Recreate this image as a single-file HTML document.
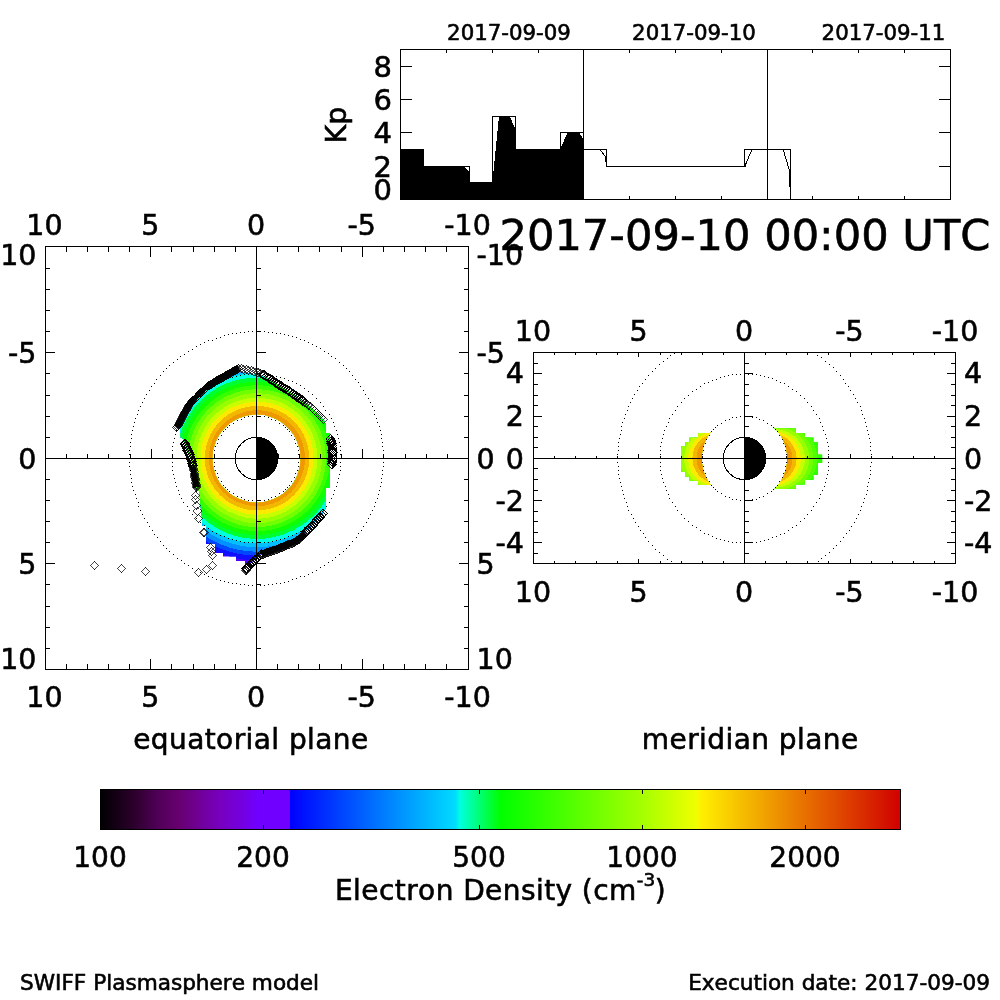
<!DOCTYPE html>
<html><head><meta charset="utf-8"><title>SWIFF Plasmasphere model</title>
<style>html,body{margin:0;padding:0;background:#fff;overflow:hidden}svg{display:block}text{font-family:'DejaVu Sans','Liberation Sans',sans-serif;fill:#000;stroke:#000;stroke-width:0.6px;font-kerning:none;font-variant-ligatures:none}</style>
</head><body>
<svg width="1000" height="1000" viewBox="0 0 1000 1000">
<rect width="1000" height="1000" fill="#fff"/>
<polygon points="400,200 400,149 424,149 424,166 463,166 470,173 470,182 492.5,182 493.5,171 499,116 509.5,116 515.5,129 515.5,149 560.5,149 561,147 568,132 578.5,132 584,140 584,200" fill="#000" shape-rendering="crispEdges"/>
<polyline points="400.5,149.5 423.5,149.5 423.5,166.5 469.5,166.5 469.5,182.5 492.5,182.5 492.5,116.5 515.5,116.5 515.5,149.5 560.5,149.5 560.5,132.5 583.5,132.5 583.5,149.5 606.5,149.5 606.5,166.5 744.5,166.5 744.5,149.5 790.5,149.5 790.5,199.5" fill="none" stroke="#000" stroke-width="1" shape-rendering="crispEdges"/>
<polyline points="600.5,150.5 605.5,156.5 606.0,162.0" fill="none" stroke="#000" stroke-width="1" shape-rendering="crispEdges"/>
<polyline points="745.0,166.5 746.0,163.5 751.5,150.5" fill="none" stroke="#000" stroke-width="1" shape-rendering="crispEdges"/>
<polyline points="783.5,150.5 789.5,170.5 790.0,186.5" fill="none" stroke="#000" stroke-width="1" shape-rendering="crispEdges"/>
<rect x="605" y="156" width="1" height="6" fill="#000"/><rect x="789" y="170" width="1" height="16" fill="#000"/>
<rect x="400.5" y="49.5" width="550" height="150" fill="none" stroke="#000" stroke-width="1" shape-rendering="crispEdges"/>
<rect x="583" y="49" width="1" height="151" fill="#000"/>
<rect x="767" y="49" width="1" height="151" fill="#000"/>
<rect x="446" y="49" width="1" height="4" fill="#000"/>
<rect x="446" y="196" width="1" height="4" fill="#000"/>
<rect x="492" y="49" width="1" height="4" fill="#000"/>
<rect x="492" y="196" width="1" height="4" fill="#000"/>
<rect x="538" y="49" width="1" height="4" fill="#000"/>
<rect x="538" y="196" width="1" height="4" fill="#000"/>
<rect x="629" y="49" width="1" height="4" fill="#000"/>
<rect x="629" y="196" width="1" height="4" fill="#000"/>
<rect x="675" y="49" width="1" height="4" fill="#000"/>
<rect x="675" y="196" width="1" height="4" fill="#000"/>
<rect x="721" y="49" width="1" height="4" fill="#000"/>
<rect x="721" y="196" width="1" height="4" fill="#000"/>
<rect x="812" y="49" width="1" height="4" fill="#000"/>
<rect x="812" y="196" width="1" height="4" fill="#000"/>
<rect x="858" y="49" width="1" height="4" fill="#000"/>
<rect x="858" y="196" width="1" height="4" fill="#000"/>
<rect x="904" y="49" width="1" height="4" fill="#000"/>
<rect x="904" y="196" width="1" height="4" fill="#000"/>
<rect x="400" y="166" width="12" height="1" fill="#000"/>
<rect x="939" y="166" width="12" height="1" fill="#000"/>
<rect x="400" y="132" width="12" height="1" fill="#000"/>
<rect x="939" y="132" width="12" height="1" fill="#000"/>
<rect x="400" y="99" width="12" height="1" fill="#000"/>
<rect x="939" y="99" width="12" height="1" fill="#000"/>
<rect x="400" y="66" width="12" height="1" fill="#000"/>
<rect x="939" y="66" width="12" height="1" fill="#000"/>
<text x="392" y="76.5" font-size="29" text-anchor="end" >8</text>
<text x="392" y="109.5" font-size="29" text-anchor="end" >6</text>
<text x="392" y="143" font-size="29" text-anchor="end" >4</text>
<text x="392" y="176.5" font-size="29" text-anchor="end" >2</text>
<text x="392" y="199.5" font-size="29" text-anchor="end" >0</text>
<text transform="translate(346,125) rotate(-90)" font-size="28.5" text-anchor="middle">Kp</text>
<text x="509" y="39.5" font-size="21.3" text-anchor="middle" >2017-09-09</text>
<text x="694" y="39.5" font-size="21.3" text-anchor="middle" >2017-09-10</text>
<text x="883.5" y="39.5" font-size="21.3" text-anchor="middle" >2017-09-11</text>
<text x="990.5" y="249.8" font-size="43.2" text-anchor="end" >2017-09-10 00:00 UTC</text>
<defs>
<linearGradient id="cb" x1="0" x2="1" y1="0" y2="0">
<stop offset="0" stop-color="#000000"/>
<stop offset="0.046" stop-color="#300030"/>
<stop offset="0.0725" stop-color="#500058"/>
<stop offset="0.099" stop-color="#680070"/>
<stop offset="0.125" stop-color="#700098"/>
<stop offset="0.151" stop-color="#7800C0"/>
<stop offset="0.1775" stop-color="#7400E0"/>
<stop offset="0.196" stop-color="#7000FF"/>
<stop offset="0.2365" stop-color="#7000FF"/>
<stop offset="0.2375" stop-color="#0000FF"/>
<stop offset="0.444" stop-color="#00DCFF"/>
<stop offset="0.449" stop-color="#00FFE0"/>
<stop offset="0.50" stop-color="#00FF00"/>
<stop offset="0.68" stop-color="#A8FF00"/>
<stop offset="0.745" stop-color="#F0FF00"/>
<stop offset="0.75" stop-color="#FFF000"/>
<stop offset="0.88" stop-color="#E87000"/>
<stop offset="1" stop-color="#D00000"/>
</linearGradient>
</defs>
<clipPath id="eqclip"><path clip-rule="evenodd" d="M180.2,427.5 L181,420 L184.5,412.5 L188.5,405.5 L192.5,401 L196,398 L200.5,393.3 L204.5,389.5 L208.5,386 L216.5,381 L224.5,376.5 L232.5,372.5 L238,372.5 L246,373 L256,374.5 L264,376 L272,380.5 L280,386 L288,391 L296,396.5 L304,402 L312,408.5 L319,415.5 L324,420.5 L325.6,424 L325.6,433 L329.6,433 L329.6,488 L325.8,488 L325.8,508 L323,513 L317,519.5 L310.5,526.5 L304,533 L298,538.5 L291,542.5 L283,545.7 L275,549 L267,551.3 L261,553.8 L257,557.8 L252,562 L247,565 L245,565 L245,561 L236,561 L236,556.6 L223,556.6 L223,553 L215,553 L215,544 L206,544 L206,526 L202,526 L202,517 L200.5,505 L199.5,492 L196.5,487.4 L195.5,482.6 L194.2,475.4 L193,469 L192.2,462.6 L190.6,457 L187.4,449.8 L185,444.2 L184.2,439.4 L180.2,437 Z M212.2965,458.5 a44.20349999999999,44.20349999999999 0 1,0 88.40699999999998,0 a44.20349999999999,44.20349999999999 0 1,0 -88.40699999999998,0 Z"/></clipPath>
<g clip-path="url(#eqclip)" shape-rendering="crispEdges"><circle cx="257.0" cy="458.2" r="118.44" fill="#5000FF"/><circle cx="257.0" cy="458.2" r="102.37" fill="#1010FF"/><circle cx="257.0" cy="458.2" r="97.50" fill="#0048FF"/><circle cx="257.0" cy="458.2" r="93.48" fill="#0090FF"/><circle cx="257.0" cy="458.2" r="89.04" fill="#00C0FF"/><circle cx="257.0" cy="458.2" r="85.02" fill="#00FFE0"/><circle cx="257.0" cy="458.2" r="80.69" fill="#00FF30"/><circle cx="257.0" cy="458.2" r="76.77" fill="#10FF00"/><circle cx="257.0" cy="458.2" r="72.97" fill="#38FF00"/><circle cx="257.0" cy="458.2" r="68.95" fill="#70FF00"/><circle cx="257.0" cy="458.2" r="64.93" fill="#98FF00"/><circle cx="257.0" cy="458.2" r="60.49" fill="#C8FF00"/><circle cx="257.0" cy="458.2" r="56.47" fill="#FCEA00"/><circle cx="257.0" cy="458.2" r="52.24" fill="#F2B800"/><circle cx="257.0" cy="458.2" r="48.01" fill="#F09800"/><circle cx="257.0" cy="458.2" r="43.57" fill="#E87000"/></g>
<path d="M298,458h1v1h-1zM298,454h1v1h-1zM298,450h1v1h-1zM297,446h1v1h-1zM295,443h1v1h-1zM294,439h1v1h-1zM291,435h1v1h-1zM289,431h1v1h-1zM287,429h1v1h-1zM285,427h1v1h-1zM283,425h1v1h-1zM279,423h1v1h-1zM275,420h1v1h-1zM271,419h1v1h-1zM268,417h1v1h-1zM264,416h1v1h-1zM260,416h1v1h-1zM256,416h1v1h-1zM252,416h1v1h-1zM248,416h1v1h-1zM244,417h1v1h-1zM241,419h1v1h-1zM237,420h1v1h-1zM233,423h1v1h-1zM229,425h1v1h-1zM227,427h1v1h-1zM225,429h1v1h-1zM223,431h1v1h-1zM221,435h1v1h-1zM218,439h1v1h-1zM217,443h1v1h-1zM215,446h1v1h-1zM214,450h1v1h-1zM214,454h1v1h-1zM214,458h1v1h-1zM214,462h1v1h-1zM214,466h1v1h-1zM215,470h1v1h-1zM217,473h1v1h-1zM218,477h1v1h-1zM221,481h1v1h-1zM223,485h1v1h-1zM225,487h1v1h-1zM227,489h1v1h-1zM229,491h1v1h-1zM233,493h1v1h-1zM237,496h1v1h-1zM241,497h1v1h-1zM244,499h1v1h-1zM248,500h1v1h-1zM252,500h1v1h-1zM256,500h1v1h-1zM260,500h1v1h-1zM264,500h1v1h-1zM268,499h1v1h-1zM271,497h1v1h-1zM275,496h1v1h-1zM279,493h1v1h-1zM283,491h1v1h-1zM285,489h1v1h-1zM287,487h1v1h-1zM289,485h1v1h-1zM291,481h1v1h-1zM294,477h1v1h-1zM295,473h1v1h-1zM297,470h1v1h-1zM298,466h1v1h-1zM298,462h1v1h-1zM298,458h1v1h-1z" fill="#000"  shape-rendering="crispEdges"/>
<path d="M341,458h1v1h-1zM340,454h1v1h-1zM340,450h1v1h-1zM340,446h1v1h-1zM339,442h1v1h-1zM338,438h1v1h-1zM337,434h1v1h-1zM336,430h1v1h-1zM334,426h1v1h-1zM333,422h1v1h-1zM331,418h1v1h-1zM329,414h1v1h-1zM325,410h1v1h-1zM323,406h1v1h-1zM320,402h1v1h-1zM316,398h1v1h-1zM312,394h1v1h-1zM308,391h1v1h-1zM304,388h1v1h-1zM300,385h1v1h-1zM296,383h1v1h-1zM292,381h1v1h-1zM288,380h1v1h-1zM284,378h1v1h-1zM280,377h1v1h-1zM276,376h1v1h-1zM272,375h1v1h-1zM268,374h1v1h-1zM264,374h1v1h-1zM260,374h1v1h-1zM256,373h1v1h-1zM252,374h1v1h-1zM248,374h1v1h-1zM244,374h1v1h-1zM240,375h1v1h-1zM236,376h1v1h-1zM232,377h1v1h-1zM228,378h1v1h-1zM224,380h1v1h-1zM220,381h1v1h-1zM216,383h1v1h-1zM212,385h1v1h-1zM208,389h1v1h-1zM204,391h1v1h-1zM200,394h1v1h-1zM196,398h1v1h-1zM192,402h1v1h-1zM189,406h1v1h-1zM186,410h1v1h-1zM183,414h1v1h-1zM181,418h1v1h-1zM179,422h1v1h-1zM178,426h1v1h-1zM176,430h1v1h-1zM175,434h1v1h-1zM174,438h1v1h-1zM173,442h1v1h-1zM172,446h1v1h-1zM172,450h1v1h-1zM172,454h1v1h-1zM171,458h1v1h-1zM172,462h1v1h-1zM172,466h1v1h-1zM172,470h1v1h-1zM173,474h1v1h-1zM174,478h1v1h-1zM175,482h1v1h-1zM176,486h1v1h-1zM178,490h1v1h-1zM179,494h1v1h-1zM181,498h1v1h-1zM183,502h1v1h-1zM187,506h1v1h-1zM189,510h1v1h-1zM192,514h1v1h-1zM196,518h1v1h-1zM200,522h1v1h-1zM204,525h1v1h-1zM208,528h1v1h-1zM212,531h1v1h-1zM216,533h1v1h-1zM220,535h1v1h-1zM224,536h1v1h-1zM228,538h1v1h-1zM232,539h1v1h-1zM236,540h1v1h-1zM240,541h1v1h-1zM244,542h1v1h-1zM248,542h1v1h-1zM252,542h1v1h-1zM256,543h1v1h-1zM260,542h1v1h-1zM264,542h1v1h-1zM268,542h1v1h-1zM272,541h1v1h-1zM276,540h1v1h-1zM280,539h1v1h-1zM284,538h1v1h-1zM288,536h1v1h-1zM292,535h1v1h-1zM296,533h1v1h-1zM300,531h1v1h-1zM304,527h1v1h-1zM308,525h1v1h-1zM312,522h1v1h-1zM316,518h1v1h-1zM320,514h1v1h-1zM323,510h1v1h-1zM326,506h1v1h-1zM329,502h1v1h-1zM331,498h1v1h-1zM333,494h1v1h-1zM334,490h1v1h-1zM336,486h1v1h-1zM337,482h1v1h-1zM338,478h1v1h-1zM339,474h1v1h-1zM340,470h1v1h-1zM340,466h1v1h-1zM340,462h1v1h-1zM341,458h1v1h-1z" fill="#000"  shape-rendering="crispEdges"/>
<path d="M383,458h1v1h-1zM383,454h1v1h-1zM383,450h1v1h-1zM382,446h1v1h-1zM382,442h1v1h-1zM381,438h1v1h-1zM381,434h1v1h-1zM380,430h1v1h-1zM379,426h1v1h-1zM377,422h1v1h-1zM376,418h1v1h-1zM374,414h1v1h-1zM374,410h1v1h-1zM372,406h1v1h-1zM370,402h1v1h-1zM368,398h1v1h-1zM365,394h1v1h-1zM363,390h1v1h-1zM360,386h1v1h-1zM358,382h1v1h-1zM355,379h1v1h-1zM352,375h1v1h-1zM349,371h1v1h-1zM346,368h1v1h-1zM343,365h1v1h-1zM339,362h1v1h-1zM335,358h1v1h-1zM331,356h1v1h-1zM328,353h1v1h-1zM324,351h1v1h-1zM320,348h1v1h-1zM316,346h1v1h-1zM312,344h1v1h-1zM308,342h1v1h-1zM304,340h1v1h-1zM300,339h1v1h-1zM296,337h1v1h-1zM292,336h1v1h-1zM288,335h1v1h-1zM284,334h1v1h-1zM280,333h1v1h-1zM276,333h1v1h-1zM272,332h1v1h-1zM268,332h1v1h-1zM264,331h1v1h-1zM260,331h1v1h-1zM256,331h1v1h-1zM252,331h1v1h-1zM248,331h1v1h-1zM244,332h1v1h-1zM240,332h1v1h-1zM236,333h1v1h-1zM232,333h1v1h-1zM228,334h1v1h-1zM224,335h1v1h-1zM220,337h1v1h-1zM216,338h1v1h-1zM212,340h1v1h-1zM208,340h1v1h-1zM204,342h1v1h-1zM200,344h1v1h-1zM196,346h1v1h-1zM192,349h1v1h-1zM188,351h1v1h-1zM184,354h1v1h-1zM180,356h1v1h-1zM177,359h1v1h-1zM173,362h1v1h-1zM169,365h1v1h-1zM166,368h1v1h-1zM163,371h1v1h-1zM160,375h1v1h-1zM156,379h1v1h-1zM154,383h1v1h-1zM151,386h1v1h-1zM149,390h1v1h-1zM146,394h1v1h-1zM144,398h1v1h-1zM142,402h1v1h-1zM140,406h1v1h-1zM138,410h1v1h-1zM137,414h1v1h-1zM135,418h1v1h-1zM134,422h1v1h-1zM133,426h1v1h-1zM132,430h1v1h-1zM131,434h1v1h-1zM131,438h1v1h-1zM130,442h1v1h-1zM130,446h1v1h-1zM129,450h1v1h-1zM129,454h1v1h-1zM129,458h1v1h-1zM129,462h1v1h-1zM129,466h1v1h-1zM130,470h1v1h-1zM130,474h1v1h-1zM131,478h1v1h-1zM131,482h1v1h-1zM132,486h1v1h-1zM133,490h1v1h-1zM135,494h1v1h-1zM136,498h1v1h-1zM138,502h1v1h-1zM138,506h1v1h-1zM140,510h1v1h-1zM142,514h1v1h-1zM144,518h1v1h-1zM147,522h1v1h-1zM149,526h1v1h-1zM152,530h1v1h-1zM154,534h1v1h-1zM157,537h1v1h-1zM160,541h1v1h-1zM163,545h1v1h-1zM166,548h1v1h-1zM169,551h1v1h-1zM173,554h1v1h-1zM177,558h1v1h-1zM181,560h1v1h-1zM184,563h1v1h-1zM188,565h1v1h-1zM192,568h1v1h-1zM196,570h1v1h-1zM200,572h1v1h-1zM204,574h1v1h-1zM208,576h1v1h-1zM212,577h1v1h-1zM216,579h1v1h-1zM220,580h1v1h-1zM224,581h1v1h-1zM228,582h1v1h-1zM232,583h1v1h-1zM236,583h1v1h-1zM240,584h1v1h-1zM244,584h1v1h-1zM248,585h1v1h-1zM252,585h1v1h-1zM256,585h1v1h-1zM260,585h1v1h-1zM264,585h1v1h-1zM268,584h1v1h-1zM272,584h1v1h-1zM276,583h1v1h-1zM280,583h1v1h-1zM284,582h1v1h-1zM288,581h1v1h-1zM292,579h1v1h-1zM296,578h1v1h-1zM300,576h1v1h-1zM304,576h1v1h-1zM308,574h1v1h-1zM312,572h1v1h-1zM316,570h1v1h-1zM320,567h1v1h-1zM324,565h1v1h-1zM328,562h1v1h-1zM332,560h1v1h-1zM335,557h1v1h-1zM339,554h1v1h-1zM343,551h1v1h-1zM346,548h1v1h-1zM349,545h1v1h-1zM352,541h1v1h-1zM356,537h1v1h-1zM358,533h1v1h-1zM361,530h1v1h-1zM363,526h1v1h-1zM366,522h1v1h-1zM368,518h1v1h-1zM370,514h1v1h-1zM372,510h1v1h-1zM374,506h1v1h-1zM375,502h1v1h-1zM377,498h1v1h-1zM378,494h1v1h-1zM379,490h1v1h-1zM380,486h1v1h-1zM381,482h1v1h-1zM381,478h1v1h-1zM382,474h1v1h-1zM382,470h1v1h-1zM383,466h1v1h-1zM383,462h1v1h-1zM383,458h1v1h-1z" fill="#000"  shape-rendering="crispEdges"/>
<polyline points="176.5,427 180.4,420 184,412.5 188.25,405 192,400.5 195.5,397.5 200,392.8 204,389 208,385.4 216,380.4 224,376 232,371.4 238.4,368" fill="none" stroke="#000" stroke-width="5.5" stroke-linejoin="round" shape-rendering="crispEdges"/>
<polyline points="304.6,533.4 298.2,539 291,543 283,546.2 275,549.4 267,551.8 261.4,554.2" fill="none" stroke="#000" stroke-width="5.5" stroke-linejoin="round" shape-rendering="crispEdges"/>
<polyline points="193,468 194.2,475.4 195.4,482.6 196.2,487.4" fill="none" stroke="#000" stroke-width="5.5" stroke-linejoin="round" shape-rendering="crispEdges"/>
<path d="M171.5,427L176,422.5L180.5,427L176,431.5ZM172.5,426L177,421.5L181.5,426L177,430.5ZM173.5,425L178,420.5L182.5,425L178,429.5ZM173.5,424L178,419.5L182.5,424L178,428.5ZM174.5,423L179,418.5L183.5,423L179,427.5ZM174.5,422L179,417.5L183.5,422L179,426.5ZM175.5,421L180,416.5L184.5,421L180,425.5ZM175.5,420L180,415.5L184.5,420L180,424.5ZM176.5,419L181,414.5L185.5,419L181,423.5ZM176.5,418L181,413.5L185.5,418L181,422.5ZM177.5,417L182,412.5L186.5,417L182,421.5ZM177.5,416L182,411.5L186.5,416L182,420.5ZM178.5,415L183,410.5L187.5,415L183,419.5ZM178.5,414L183,409.5L187.5,414L183,418.5ZM179.5,413L184,408.5L188.5,413L184,417.5ZM179.5,412L184,407.5L188.5,412L184,416.5ZM180.5,411L185,406.5L189.5,411L185,415.5ZM181.5,410L186,405.5L190.5,410L186,414.5ZM181.5,409L186,404.5L190.5,409L186,413.5ZM182.5,408L187,403.5L191.5,408L187,412.5ZM182.5,407L187,402.5L191.5,407L187,411.5ZM183.5,406L188,401.5L192.5,406L188,410.5ZM183.5,405L188,400.5L192.5,405L188,409.5ZM184.5,404L189,399.5L193.5,404L189,408.5ZM185.5,403L190,398.5L194.5,403L190,407.5ZM186.5,402L191,397.5L195.5,402L191,406.5ZM186.5,401L191,396.5L195.5,401L191,405.5ZM187.5,400L192,395.5L196.5,400L192,404.5ZM188.5,400L193,395.5L197.5,400L193,404.5ZM189.5,399L194,394.5L198.5,399L194,403.5ZM190.5,398L195,393.5L199.5,398L195,402.5ZM191.5,397L196,392.5L200.5,397L196,401.5ZM191.5,397L196,392.5L200.5,397L196,401.5ZM192.5,396L197,391.5L201.5,396L197,400.5ZM193.5,395L198,390.5L202.5,395L198,399.5ZM194.5,394L199,389.5L203.5,394L199,398.5ZM195.5,393L200,388.5L204.5,393L200,397.5ZM195.5,392L200,387.5L204.5,392L200,396.5ZM196.5,392L201,387.5L205.5,392L201,396.5ZM197.5,391L202,386.5L206.5,391L202,395.5ZM198.5,390L203,385.5L207.5,390L203,394.5ZM199.5,389L204,384.5L208.5,389L204,393.5ZM200.5,388L205,383.5L209.5,388L205,392.5ZM200.5,388L205,383.5L209.5,388L205,392.5ZM201.5,387L206,382.5L210.5,387L206,391.5ZM202.5,386L207,381.5L211.5,386L207,390.5ZM203.5,385L208,380.5L212.5,385L208,389.5ZM204.5,385L209,380.5L213.5,385L209,389.5ZM205.5,384L210,379.5L214.5,384L210,388.5ZM206.5,384L211,379.5L215.5,384L211,388.5ZM207.5,383L212,378.5L216.5,383L212,387.5ZM208.5,382L213,377.5L217.5,382L213,386.5ZM209.5,382L214,377.5L218.5,382L214,386.5ZM210.5,381L215,376.5L219.5,381L215,385.5ZM211.5,380L216,375.5L220.5,380L216,384.5ZM212.5,380L217,375.5L221.5,380L217,384.5ZM213.5,379L218,374.5L222.5,379L218,383.5ZM214.5,379L219,374.5L223.5,379L219,383.5ZM215.5,378L220,373.5L224.5,378L220,382.5ZM216.5,378L221,373.5L225.5,378L221,382.5ZM217.5,377L222,372.5L226.5,377L222,381.5ZM218.5,377L223,372.5L227.5,377L223,381.5ZM219.5,376L224,371.5L228.5,376L224,380.5ZM220.5,375L225,370.5L229.5,375L225,379.5ZM221.5,375L226,370.5L230.5,375L226,379.5ZM222.5,374L227,369.5L231.5,374L227,378.5ZM223.5,374L228,369.5L232.5,374L228,378.5ZM224.5,373L229,368.5L233.5,373L229,377.5ZM225.5,373L230,368.5L234.5,373L230,377.5ZM226.5,372L231,367.5L235.5,372L231,376.5ZM227.5,371L232,366.5L236.5,371L232,375.5ZM228.5,371L233,366.5L237.5,371L233,375.5ZM229.5,370L234,365.5L238.5,370L234,374.5ZM230.5,370L235,365.5L239.5,370L235,374.5ZM231.5,369L236,364.5L240.5,369L236,373.5ZM232.5,369L237,364.5L241.5,369L237,373.5ZM233.5,368L238,363.5L242.5,368L238,372.5ZM300.5,533L305,528.5L309.5,533L305,537.5ZM299.5,534L304,529.5L308.5,534L304,538.5ZM298.5,535L303,530.5L307.5,535L303,539.5ZM297.5,536L302,531.5L306.5,536L302,540.5ZM296.5,536L301,531.5L305.5,536L301,540.5ZM295.5,537L300,532.5L304.5,537L300,541.5ZM294.5,538L299,533.5L303.5,538L299,542.5ZM294.5,539L299,534.5L303.5,539L299,543.5ZM293.5,539L298,534.5L302.5,539L298,543.5ZM292.5,540L297,535.5L301.5,540L297,544.5ZM291.5,540L296,535.5L300.5,540L296,544.5ZM290.5,541L295,536.5L299.5,541L295,545.5ZM289.5,542L294,537.5L298.5,542L294,546.5ZM288.5,542L293,537.5L297.5,542L293,546.5ZM287.5,543L292,538.5L296.5,543L292,547.5ZM286.5,543L291,538.5L295.5,543L291,547.5ZM284.5,544L289,539.5L293.5,544L289,548.5ZM283.5,544L288,539.5L292.5,544L288,548.5ZM282.5,544L287,539.5L291.5,544L287,548.5ZM281.5,545L286,540.5L290.5,545L286,549.5ZM280.5,545L285,540.5L289.5,545L285,549.5ZM279.5,546L284,541.5L288.5,546L284,550.5ZM278.5,546L283,541.5L287.5,546L283,550.5ZM277.5,547L282,542.5L286.5,547L282,551.5ZM276.5,547L281,542.5L285.5,547L281,551.5ZM275.5,547L280,542.5L284.5,547L280,551.5ZM274.5,548L279,543.5L283.5,548L279,552.5ZM273.5,548L278,543.5L282.5,548L278,552.5ZM272.5,549L277,544.5L281.5,549L277,553.5ZM271.5,549L276,544.5L280.5,549L276,553.5ZM269.5,550L274,545.5L278.5,550L274,554.5ZM268.5,550L273,545.5L277.5,550L273,554.5ZM267.5,550L272,545.5L276.5,550L272,554.5ZM266.5,551L271,546.5L275.5,551L271,555.5ZM265.5,551L270,546.5L274.5,551L270,555.5ZM264.5,551L269,546.5L273.5,551L269,555.5ZM263.5,552L268,547.5L272.5,552L268,556.5ZM262.5,552L267,547.5L271.5,552L267,556.5ZM261.5,552L266,547.5L270.5,552L266,556.5ZM260.5,553L265,548.5L269.5,553L265,557.5ZM259.5,553L264,548.5L268.5,553L264,557.5ZM258.5,554L263,549.5L267.5,554L263,558.5ZM257.5,554L262,549.5L266.5,554L262,558.5ZM188.5,468L193,463.5L197.5,468L193,472.5ZM188.5,469L193,464.5L197.5,469L193,473.5ZM188.5,470L193,465.5L197.5,470L193,474.5ZM189.5,471L194,466.5L198.5,471L194,475.5ZM189.5,473L194,468.5L198.5,473L194,477.5ZM189.5,474L194,469.5L198.5,474L194,478.5ZM189.5,475L194,470.5L198.5,475L194,479.5ZM189.5,476L194,471.5L198.5,476L194,480.5ZM189.5,477L194,472.5L198.5,477L194,481.5ZM190.5,478L195,473.5L199.5,478L195,482.5ZM190.5,479L195,474.5L199.5,479L195,483.5ZM190.5,480L195,475.5L199.5,480L195,484.5ZM190.5,482L195,477.5L199.5,482L195,486.5ZM190.5,483L195,478.5L199.5,483L195,487.5ZM191.5,484L196,479.5L200.5,484L196,488.5ZM191.5,485L196,480.5L200.5,485L196,489.5ZM191.5,486L196,481.5L200.5,486L196,490.5ZM191.5,487L196,482.5L200.5,487L196,491.5Z" fill="none" stroke="#000" stroke-width="0.72" shape-rendering="crispEdges"/>
<path d="M259.5,375.2L264,370.7L268.5,375.2L264,379.7ZM261.5,376.4L266.0,371.9L270.5,376.4L266.0,380.9ZM263.4,377.6L267.9,373.1L272.4,377.6L267.9,382.1ZM265.4,378.8L269.9,374.3L274.4,378.8L269.9,383.3ZM267.4,379.9L271.9,375.4L276.4,379.9L271.9,384.4ZM269.3,381.2L273.8,376.7L278.3,381.2L273.8,385.7ZM271.2,382.6L275.7,378.1L280.2,382.6L275.7,387.1ZM273.0,383.9L277.5,379.4L282.0,383.9L277.5,388.4ZM274.9,385.2L279.4,380.7L283.9,385.2L279.4,389.7ZM276.9,386.4L281.4,381.9L285.9,386.4L281.4,390.9ZM278.8,387.6L283.3,383.1L287.8,387.6L283.3,392.1ZM280.8,388.8L285.3,384.3L289.8,388.8L285.3,393.3ZM282.8,390.0L287.3,385.5L291.8,390.0L287.3,394.5ZM284.7,391.2L289.2,386.7L293.7,391.2L289.2,395.7ZM286.6,392.6L291.1,388.1L295.6,392.6L291.1,397.1ZM288.5,393.9L293.0,389.4L297.5,393.9L293.0,398.4ZM290.4,395.2L294.9,390.7L299.4,395.2L294.9,399.7ZM292.2,396.5L296.7,392.0L301.2,396.5L296.7,401.0ZM294.1,397.8L298.6,393.3L303.1,397.8L298.6,402.3ZM296.0,399.2L300.5,394.7L305.0,399.2L300.5,403.7ZM297.9,400.5L302.4,396.0L306.9,400.5L302.4,405.0ZM326.0,439L330.5,434.5L335.0,439L330.5,443.5ZM326.6,441.2L331.1,436.7L335.6,441.2L331.1,445.7ZM327.1,443.5L331.6,439.0L336.1,443.5L331.6,448.0ZM327.6,445.7L332.1,441.2L336.6,445.7L332.1,450.2ZM327.8,448.0L332.3,443.5L336.8,448.0L332.3,452.5ZM327.9,450.3L332.4,445.8L336.9,450.3L332.4,454.8ZM328.0,452.6L332.5,448.1L337.0,452.6L332.5,457.1ZM328.0,454.9L332.5,450.4L337.0,454.9L332.5,459.4ZM328.0,457.2L332.5,452.7L337.0,457.2L332.5,461.7ZM327.8,459.5L332.3,455.0L336.8,459.5L332.3,464.0ZM327.6,461.8L332.1,457.3L336.6,461.8L332.1,466.3ZM327.3,464.1L331.8,459.6L336.3,464.1L331.8,468.6ZM318.5,513.4L323,508.9L327.5,513.4L323,517.9ZM317.0,515.1L321.5,510.6L326.0,515.1L321.5,519.6ZM315.5,516.9L320.0,512.4L324.5,516.9L320.0,521.4ZM314.0,518.6L318.5,514.1L323.0,518.6L318.5,523.1ZM312.4,520.3L316.9,515.8L321.4,520.3L316.9,524.8ZM310.9,522.0L315.4,517.5L319.9,522.0L315.4,526.5ZM309.4,523.8L313.9,519.3L318.4,523.8L313.9,528.3ZM307.9,525.5L312.4,521.0L316.9,525.5L312.4,530.0ZM306.3,527.2L310.8,522.7L315.3,527.2L310.8,531.7ZM304.7,528.8L309.2,524.3L313.7,528.8L309.2,533.3ZM303.1,530.4L307.6,525.9L312.1,530.4L307.6,534.9ZM301.4,532.1L305.9,527.6L310.4,532.1L305.9,536.6ZM256.9,554.2L261.4,549.7L265.9,554.2L261.4,558.7ZM255.3,555.8L259.8,551.3L264.3,555.8L259.8,560.3ZM253.60000000000002,557.5L258.1,553.0L262.6,557.5L258.1,562.0ZM252.0,559.0L256.5,554.5L261.0,559.0L256.5,563.5ZM250.2,560.5L254.7,556.0L259.2,560.5L254.7,565.0ZM248.5,562.1L253.0,557.6L257.5,562.1L253.0,566.6ZM246.9,563.6L251.4,559.1L255.9,563.6L251.4,568.1ZM245.2,565.3L249.7,560.8L254.2,565.3L249.7,569.8ZM243.6,566.9L248.1,562.4L252.6,566.9L248.1,571.4ZM242.0,568.5L246.5,564.0L251.0,568.5L246.5,573.0ZM180.5,444.2L185,439.7L189.5,444.2L185,448.7ZM181.4,446.3L185.9,441.8L190.4,446.3L185.9,450.8ZM182.3,448.4L186.8,443.9L191.3,448.4L186.8,452.9ZM183.2,450.5L187.7,446.0L192.2,450.5L187.7,455.0ZM184.2,452.6L188.7,448.1L193.2,452.6L188.7,457.1ZM185.1,454.7L189.6,450.2L194.1,454.7L189.6,459.2ZM186.0,456.8L190.5,452.3L195.0,456.8L190.5,461.3ZM186.7,459.0L191.2,454.5L195.7,459.0L191.2,463.5ZM187.3,461.3L191.8,456.8L196.3,461.3L191.8,465.8ZM187.8,463.5L192.3,459.0L196.8,463.5L192.3,468.0ZM188.2,465.8L192.7,461.3L197.2,465.8L192.7,470.3Z" fill="none" stroke="#000" stroke-width="1" shape-rendering="crispEdges"/>
<path d="M233.5,368L238,363.5L242.5,368L238,372.5ZM236.5,368L241,363.5L245.5,368L241,372.5ZM238.5,369L243,364.5L247.5,369L243,373.5ZM241.5,369L246,364.5L250.5,369L246,373.5ZM243.5,370L248,365.5L252.5,370L248,374.5ZM246.5,370L251,365.5L255.5,370L251,374.5ZM248.5,371L253,366.5L257.5,371L253,375.5ZM251.5,371L256,366.5L260.5,371L256,375.5ZM253.5,372L258,367.5L262.5,372L258,376.5ZM255.5,373L260,368.5L264.5,373L260,377.5ZM257.5,374L262,369.5L266.5,374L262,378.5ZM299.5,402L304,397.5L308.5,402L304,406.5ZM301.5,403L306,398.5L310.5,403L306,407.5ZM303.5,405L308,400.5L312.5,405L308,409.5ZM305.5,406L310,401.5L314.5,406L310,410.5ZM307.5,408L312,403.5L316.5,408L312,412.5ZM309.5,410L314,405.5L318.5,410L314,414.5ZM311.5,412L316,407.5L320.5,412L316,416.5ZM313.5,414L318,409.5L322.5,414L318,418.5ZM314.5,415L319,410.5L323.5,415L319,419.5ZM316.5,417L321,412.5L325.5,417L321,421.5ZM318.5,419L323,414.5L327.5,419L323,423.5ZM190.5,495L195,490.5L199.5,495L195,499.5ZM190.5,499L195,494.5L199.5,499L195,503.5ZM191.5,505L196,500.5L200.5,505L196,509.5ZM192.5,511L197,506.5L201.5,511L197,515.5ZM193.5,518L198,513.5L202.5,518L198,522.5ZM198.5,532L203,527.5L207.5,532L203,536.5ZM199.5,532L204,527.5L208.5,532L204,536.5ZM241.5,570L246,565.5L250.5,570L246,574.5ZM240.5,570L245,565.5L249.5,570L245,574.5ZM205.5,547L210,542.5L214.5,547L210,551.5ZM206.5,551L211,546.5L215.5,551L211,555.5ZM207.5,555L212,550.5L216.5,555L212,559.5ZM207.5,565L212,560.5L216.5,565L212,569.5ZM201.5,569L206,564.5L210.5,569L206,573.5ZM193.5,572L198,567.5L202.5,572L198,576.5ZM89.5,565L94,560.5L98.5,565L94,569.5ZM116.5,568L121,563.5L125.5,568L121,572.5ZM140.5,571L145,566.5L149.5,571L145,575.5Z" fill="none" stroke="#000" stroke-width="0.72" shape-rendering="crispEdges"/>
<circle cx="256.5" cy="458.5" r="21.15" fill="#fff" stroke="#000" stroke-width="1" shape-rendering="crispEdges"/>
<path d="M256.5,437.35 a21.15,21.15 0 0,1 0,42.3 Z" fill="#000" shape-rendering="crispEdges"/>
<rect x="45.5" y="246.5" width="423" height="423" fill="none" stroke="#000" stroke-width="1" shape-rendering="crispEdges"/>
<rect x="45" y="458" width="424" height="1" fill="#000"/>
<rect x="256" y="246" width="1" height="424" fill="#000"/>
<rect x="66" y="246" width="1" height="6" fill="#000"/>
<rect x="66" y="664" width="1" height="6" fill="#000"/>
<rect x="45" y="268" width="5" height="1" fill="#000"/>
<rect x="464" y="268" width="5" height="1" fill="#000"/>
<rect x="66" y="454" width="1" height="5" fill="#000"/>
<rect x="256" y="268" width="5" height="1" fill="#000"/>
<rect x="87" y="246" width="1" height="6" fill="#000"/>
<rect x="87" y="664" width="1" height="6" fill="#000"/>
<rect x="45" y="289" width="5" height="1" fill="#000"/>
<rect x="464" y="289" width="5" height="1" fill="#000"/>
<rect x="87" y="454" width="1" height="5" fill="#000"/>
<rect x="256" y="289" width="5" height="1" fill="#000"/>
<rect x="108" y="246" width="1" height="6" fill="#000"/>
<rect x="108" y="664" width="1" height="6" fill="#000"/>
<rect x="45" y="310" width="5" height="1" fill="#000"/>
<rect x="464" y="310" width="5" height="1" fill="#000"/>
<rect x="108" y="454" width="1" height="5" fill="#000"/>
<rect x="256" y="310" width="5" height="1" fill="#000"/>
<rect x="129" y="246" width="1" height="6" fill="#000"/>
<rect x="129" y="664" width="1" height="6" fill="#000"/>
<rect x="45" y="331" width="5" height="1" fill="#000"/>
<rect x="464" y="331" width="5" height="1" fill="#000"/>
<rect x="130" y="454" width="1" height="5" fill="#000"/>
<rect x="256" y="331" width="5" height="1" fill="#000"/>
<rect x="150" y="246" width="1" height="11" fill="#000"/>
<rect x="150" y="659" width="1" height="11" fill="#000"/>
<rect x="45" y="352" width="10" height="1" fill="#000"/>
<rect x="459" y="352" width="10" height="1" fill="#000"/>
<rect x="151" y="449" width="1" height="10" fill="#000"/>
<rect x="256" y="352" width="10" height="1" fill="#000"/>
<rect x="171" y="246" width="1" height="6" fill="#000"/>
<rect x="171" y="664" width="1" height="6" fill="#000"/>
<rect x="45" y="373" width="5" height="1" fill="#000"/>
<rect x="464" y="373" width="5" height="1" fill="#000"/>
<rect x="172" y="454" width="1" height="5" fill="#000"/>
<rect x="256" y="373" width="5" height="1" fill="#000"/>
<rect x="193" y="246" width="1" height="6" fill="#000"/>
<rect x="193" y="664" width="1" height="6" fill="#000"/>
<rect x="45" y="395" width="5" height="1" fill="#000"/>
<rect x="464" y="395" width="5" height="1" fill="#000"/>
<rect x="193" y="454" width="1" height="5" fill="#000"/>
<rect x="256" y="395" width="5" height="1" fill="#000"/>
<rect x="214" y="246" width="1" height="6" fill="#000"/>
<rect x="214" y="664" width="1" height="6" fill="#000"/>
<rect x="45" y="416" width="5" height="1" fill="#000"/>
<rect x="464" y="416" width="5" height="1" fill="#000"/>
<rect x="214" y="454" width="1" height="5" fill="#000"/>
<rect x="256" y="416" width="5" height="1" fill="#000"/>
<rect x="235" y="246" width="1" height="6" fill="#000"/>
<rect x="235" y="664" width="1" height="6" fill="#000"/>
<rect x="45" y="437" width="5" height="1" fill="#000"/>
<rect x="464" y="437" width="5" height="1" fill="#000"/>
<rect x="235" y="454" width="1" height="5" fill="#000"/>
<rect x="256" y="437" width="5" height="1" fill="#000"/>
<rect x="277" y="246" width="1" height="6" fill="#000"/>
<rect x="277" y="664" width="1" height="6" fill="#000"/>
<rect x="45" y="479" width="5" height="1" fill="#000"/>
<rect x="464" y="479" width="5" height="1" fill="#000"/>
<rect x="278" y="454" width="1" height="5" fill="#000"/>
<rect x="256" y="479" width="5" height="1" fill="#000"/>
<rect x="298" y="246" width="1" height="6" fill="#000"/>
<rect x="298" y="664" width="1" height="6" fill="#000"/>
<rect x="45" y="500" width="5" height="1" fill="#000"/>
<rect x="464" y="500" width="5" height="1" fill="#000"/>
<rect x="299" y="454" width="1" height="5" fill="#000"/>
<rect x="256" y="500" width="5" height="1" fill="#000"/>
<rect x="319" y="246" width="1" height="6" fill="#000"/>
<rect x="319" y="664" width="1" height="6" fill="#000"/>
<rect x="45" y="521" width="5" height="1" fill="#000"/>
<rect x="464" y="521" width="5" height="1" fill="#000"/>
<rect x="320" y="454" width="1" height="5" fill="#000"/>
<rect x="256" y="521" width="5" height="1" fill="#000"/>
<rect x="341" y="246" width="1" height="6" fill="#000"/>
<rect x="341" y="664" width="1" height="6" fill="#000"/>
<rect x="45" y="542" width="5" height="1" fill="#000"/>
<rect x="464" y="542" width="5" height="1" fill="#000"/>
<rect x="341" y="454" width="1" height="5" fill="#000"/>
<rect x="256" y="542" width="5" height="1" fill="#000"/>
<rect x="362" y="246" width="1" height="11" fill="#000"/>
<rect x="362" y="659" width="1" height="11" fill="#000"/>
<rect x="45" y="563" width="10" height="1" fill="#000"/>
<rect x="459" y="563" width="10" height="1" fill="#000"/>
<rect x="362" y="449" width="1" height="10" fill="#000"/>
<rect x="256" y="563" width="10" height="1" fill="#000"/>
<rect x="383" y="246" width="1" height="6" fill="#000"/>
<rect x="383" y="664" width="1" height="6" fill="#000"/>
<rect x="45" y="584" width="5" height="1" fill="#000"/>
<rect x="464" y="584" width="5" height="1" fill="#000"/>
<rect x="383" y="454" width="1" height="5" fill="#000"/>
<rect x="256" y="584" width="5" height="1" fill="#000"/>
<rect x="404" y="246" width="1" height="6" fill="#000"/>
<rect x="404" y="664" width="1" height="6" fill="#000"/>
<rect x="45" y="606" width="5" height="1" fill="#000"/>
<rect x="464" y="606" width="5" height="1" fill="#000"/>
<rect x="405" y="454" width="1" height="5" fill="#000"/>
<rect x="256" y="606" width="5" height="1" fill="#000"/>
<rect x="425" y="246" width="1" height="6" fill="#000"/>
<rect x="425" y="664" width="1" height="6" fill="#000"/>
<rect x="45" y="627" width="5" height="1" fill="#000"/>
<rect x="464" y="627" width="5" height="1" fill="#000"/>
<rect x="426" y="454" width="1" height="5" fill="#000"/>
<rect x="256" y="627" width="5" height="1" fill="#000"/>
<rect x="446" y="246" width="1" height="6" fill="#000"/>
<rect x="446" y="664" width="1" height="6" fill="#000"/>
<rect x="45" y="648" width="5" height="1" fill="#000"/>
<rect x="464" y="648" width="5" height="1" fill="#000"/>
<rect x="447" y="454" width="1" height="5" fill="#000"/>
<rect x="256" y="648" width="5" height="1" fill="#000"/>
<text x="44.5" y="234.8" font-size="28.5" text-anchor="middle" >10</text>
<text x="44.5" y="707.3" font-size="28.5" text-anchor="middle" >10</text>
<text x="150.25" y="234.8" font-size="28.5" text-anchor="middle" >5</text>
<text x="150.25" y="707.3" font-size="28.5" text-anchor="middle" >5</text>
<text x="256.0" y="234.8" font-size="28.5" text-anchor="middle" >0</text>
<text x="256.0" y="707.3" font-size="28.5" text-anchor="middle" >0</text>
<text x="361.75" y="234.8" font-size="28.5" text-anchor="middle" >-5</text>
<text x="361.75" y="707.3" font-size="28.5" text-anchor="middle" >-5</text>
<text x="467.5" y="234.8" font-size="28.5" text-anchor="middle" >-10</text>
<text x="467.5" y="707.3" font-size="28.5" text-anchor="middle" >-10</text>
<text x="36.5" y="265" font-size="28.5" text-anchor="end" >10</text>
<text x="476.5" y="265" font-size="28.5" text-anchor="start" >-10</text>
<text x="36.5" y="363.3" font-size="28.5" text-anchor="end" >-5</text>
<text x="476.5" y="363.3" font-size="28.5" text-anchor="start" >-5</text>
<text x="36.5" y="468.5" font-size="28.5" text-anchor="end" >0</text>
<text x="476.5" y="468.5" font-size="28.5" text-anchor="start" >0</text>
<text x="36.5" y="574.3" font-size="28.5" text-anchor="end" >5</text>
<text x="476.5" y="574.3" font-size="28.5" text-anchor="start" >5</text>
<text x="36.5" y="669.3" font-size="28.5" text-anchor="end" >10</text>
<text x="476.5" y="669.3" font-size="28.5" text-anchor="start" >10</text>
<text x="250.9" y="749" font-size="28" text-anchor="middle" letter-spacing="0.42">equatorial plane</text>
<clipPath id="mclip"><rect x="533" y="352" width="423" height="212"/></clipPath>
<clipPath id="lobeL"><polygon points="711.0,433.0 698.0,433.0 698.0,437.8 689.5,437.8 689.5,442.0 685.3,442.0 685.3,446.0 681.0,446.0 681.0,472.0 685.3,472.0 685.3,476.5 689.5,476.5 689.5,480.5 698.0,480.5 698.0,485.0 711.0,485.0 710.9,485.1 708.8,482.2 707.0,479.1 705.4,475.9 704.0,472.6 703.0,469.1 702.3,465.6 701.8,462.1 701.7,458.5 701.8,454.9 702.3,451.4 703.0,447.9 704.0,444.4 705.4,441.1 707.0,437.9 708.8,434.8 710.9,431.9"/></clipPath>
<clipPath id="lobeR"><polygon points="774.0,428.5 796.0,428.5 796.0,433.0 805.0,433.0 805.0,437.5 813.5,437.5 813.5,442.0 818.0,442.0 818.0,454.5 822.3,454.5 822.3,463.0 818.0,463.0 818.0,475.0 813.5,475.0 813.5,480.0 805.0,480.0 805.0,484.5 796.0,484.5 796.0,489.0 774.0,489.0 774.3,489.3 777.2,486.2 779.8,482.7 782.1,479.1 783.9,475.2 785.4,471.2 786.5,467.0 787.1,462.8 787.3,458.5 787.1,454.2 786.5,450.0 785.4,445.8 783.9,441.8 782.1,437.9 779.8,434.3 777.2,430.8 774.3,427.7"/></clipPath>
<g clip-path="url(#lobeL)" shape-rendering="crispEdges"><polygon points="744.5,458.5 735.0,483.1 731.6,486.5 727.9,489.5 723.8,492.1 719.5,494.3 714.8,495.9 710.1,496.9 705.2,497.4 700.3,497.3 695.4,496.6 690.7,495.3 686.2,493.5 681.9,491.1 678.0,488.2 674.5,484.9 671.4,481.1 668.8,477.0 666.7,472.7 665.2,468.1 664.3,463.3 664.0,458.5 664.3,453.7 665.2,448.9 666.7,444.3 668.8,440.0 671.4,435.9 674.5,432.1 678.0,428.8 681.9,425.9 686.2,423.5 690.7,421.7 695.4,420.4 700.3,419.7 705.2,419.6 710.1,420.1 714.8,421.1 719.5,422.7 723.8,424.9 727.9,427.5 731.6,430.5 735.0,433.9" fill="#18FF00"/><polygon points="744.5,458.5 735.4,481.9 732.3,485.1 728.7,488.0 724.8,490.5 720.7,492.5 716.3,494.1 711.7,495.1 707.1,495.5 702.4,495.4 697.8,494.7 693.3,493.5 689.0,491.8 685.0,489.5 681.2,486.8 677.9,483.6 674.9,480.0 672.4,476.1 670.5,472.0 669.1,467.6 668.2,463.1 667.9,458.5 668.2,453.9 669.1,449.4 670.5,445.0 672.4,440.9 674.9,437.0 677.9,433.4 681.2,430.2 685.0,427.5 689.0,425.2 693.3,423.5 697.8,422.3 702.4,421.6 707.1,421.5 711.7,421.9 716.3,422.9 720.7,424.5 724.8,426.5 728.7,429.0 732.3,431.9 735.4,435.1" fill="#30FF00"/><polygon points="744.5,458.5 735.9,480.7 732.9,483.8 729.5,486.6 725.8,488.9 721.9,490.9 717.7,492.3 713.4,493.2 708.9,493.7 704.5,493.6 700.1,492.9 695.9,491.8 691.8,490.1 687.9,488.0 684.4,485.4 681.2,482.3 678.4,479.0 676.0,475.3 674.2,471.3 672.8,467.1 672.0,462.9 671.7,458.5 672.0,454.1 672.8,449.9 674.2,445.7 676.0,441.7 678.4,438.0 681.2,434.7 684.4,431.6 687.9,429.0 691.8,426.9 695.9,425.2 700.1,424.1 704.5,423.4 708.9,423.3 713.4,423.8 717.7,424.7 721.9,426.1 725.8,428.1 729.5,430.4 732.9,433.2 735.9,436.3" fill="#50FF00"/><polygon points="744.5,458.5 736.3,479.5 733.5,482.4 730.3,485.0 726.8,487.3 723.1,489.1 719.2,490.4 715.1,491.3 710.9,491.7 706.7,491.6 702.6,491.0 698.5,489.9 694.7,488.4 691.0,486.3 687.7,483.9 684.6,481.0 682.0,477.8 679.8,474.3 678.0,470.6 676.7,466.7 676.0,462.6 675.7,458.5 676.0,454.4 676.7,450.3 678.0,446.4 679.8,442.7 682.0,439.2 684.6,436.0 687.7,433.1 691.0,430.7 694.7,428.6 698.5,427.1 702.6,426.0 706.7,425.4 710.9,425.3 715.1,425.7 719.2,426.6 723.1,427.9 726.8,429.7 730.3,432.0 733.5,434.6 736.3,437.5" fill="#70FF00"/><polygon points="744.5,458.5 736.8,478.3 734.1,481.0 731.2,483.5 727.9,485.6 724.3,487.3 720.6,488.6 716.8,489.4 712.9,489.8 708.9,489.7 705.0,489.1 701.2,488.1 697.6,486.6 694.1,484.7 691.0,482.4 688.1,479.7 685.6,476.7 683.6,473.4 681.9,469.9 680.7,466.2 680.0,462.4 679.7,458.5 680.0,454.6 680.7,450.8 681.9,447.1 683.6,443.6 685.6,440.3 688.1,437.3 691.0,434.6 694.1,432.3 697.6,430.4 701.2,428.9 705.0,427.9 708.9,427.3 712.9,427.2 716.8,427.6 720.6,428.4 724.3,429.7 727.9,431.4 731.2,433.5 734.1,436.0 736.8,438.7" fill="#98FF00"/><polygon points="744.5,458.5 737.3,476.9 734.9,479.5 732.1,481.8 729.0,483.7 725.7,485.3 722.3,486.5 718.7,487.3 715.0,487.7 711.4,487.6 707.7,487.0 704.2,486.1 700.8,484.7 697.6,482.9 694.6,480.8 692.0,478.3 689.7,475.5 687.7,472.4 686.2,469.1 685.1,465.7 684.4,462.1 684.2,458.5 684.4,454.9 685.1,451.3 686.2,447.9 687.7,444.6 689.7,441.5 692.0,438.7 694.6,436.2 697.6,434.1 700.8,432.3 704.2,430.9 707.7,430.0 711.4,429.4 715.0,429.3 718.7,429.7 722.3,430.5 725.7,431.7 729.0,433.3 732.1,435.2 734.9,437.5 737.3,440.1" fill="#C8FF00"/><polygon points="744.5,458.5 737.8,475.7 735.5,478.1 732.9,480.2 730.0,482.0 727.0,483.5 723.7,484.7 720.4,485.4 717.0,485.7 713.6,485.6 710.2,485.2 706.9,484.3 703.7,483.0 700.7,481.3 698.0,479.3 695.5,477.0 693.3,474.3 691.5,471.5 690.1,468.4 689.0,465.2 688.4,461.9 688.2,458.5 688.4,455.1 689.0,451.8 690.1,448.6 691.5,445.5 693.3,442.7 695.5,440.0 698.0,437.7 700.7,435.7 703.7,434.0 706.9,432.7 710.2,431.8 713.6,431.4 717.0,431.3 720.4,431.6 723.7,432.3 727.0,433.5 730.0,435.0 732.9,436.8 735.5,438.9 737.8,441.3" fill="#FCEA00"/><polygon points="744.5,458.5 738.3,474.4 736.2,476.6 733.8,478.6 731.1,480.3 728.3,481.7 725.3,482.7 722.2,483.4 719.0,483.7 715.9,483.6 712.7,483.2 709.7,482.3 706.7,481.1 704.0,479.6 701.4,477.7 699.2,475.6 697.2,473.1 695.5,470.5 694.1,467.7 693.2,464.7 692.6,461.6 692.4,458.5 692.6,455.4 693.2,452.3 694.1,449.3 695.5,446.5 697.2,443.9 699.2,441.4 701.4,439.3 704.0,437.4 706.7,435.9 709.7,434.7 712.7,433.8 715.9,433.4 719.0,433.3 722.2,433.6 725.3,434.3 728.3,435.3 731.1,436.7 733.8,438.4 736.2,440.4 738.3,442.6" fill="#F2B800"/><polygon points="744.5,458.5 738.8,473.1 736.8,475.2 734.6,477.0 732.2,478.5 729.6,479.8 726.9,480.7 724.0,481.4 721.1,481.6 718.2,481.6 715.3,481.2 712.5,480.4 709.8,479.3 707.3,477.9 704.9,476.2 702.8,474.2 701.0,472.0 699.4,469.5 698.2,466.9 697.3,464.2 696.8,461.4 696.6,458.5 696.8,455.6 697.3,452.8 698.2,450.1 699.4,447.5 701.0,445.0 702.8,442.8 704.9,440.8 707.3,439.1 709.8,437.7 712.5,436.6 715.3,435.8 718.2,435.4 721.1,435.4 724.0,435.6 726.9,436.3 729.6,437.2 732.2,438.5 734.6,440.0 736.8,441.8 738.8,443.9" fill="#F09800"/><polygon points="744.5,458.5 739.3,471.8 737.6,473.6 735.5,475.3 733.3,476.7 731.0,477.8 728.5,478.7 725.9,479.2 723.3,479.5 720.6,479.4 718.0,479.1 715.5,478.4 713.0,477.4 710.7,476.1 708.6,474.5 706.7,472.7 705.0,470.7 703.6,468.5 702.5,466.1 701.7,463.7 701.2,461.1 701.0,458.5 701.2,455.9 701.7,453.3 702.5,450.9 703.6,448.5 705.0,446.3 706.7,444.3 708.6,442.5 710.7,440.9 713.0,439.6 715.5,438.6 718.0,437.9 720.6,437.6 723.3,437.5 725.9,437.8 728.5,438.3 731.0,439.2 733.3,440.3 735.5,441.7 737.6,443.4 739.3,445.2" fill="#E87000"/></g>
<g clip-path="url(#lobeR)" shape-rendering="crispEdges"><polygon points="744.5,458.5 754.0,483.1 757.4,486.5 761.1,489.5 765.2,492.1 769.5,494.3 774.2,495.9 778.9,496.9 783.8,497.4 788.7,497.3 793.6,496.6 798.3,495.3 802.8,493.5 807.1,491.1 811.0,488.2 814.5,484.9 817.6,481.1 820.2,477.0 822.3,472.7 823.8,468.1 824.7,463.3 825.0,458.5 824.7,453.7 823.8,448.9 822.3,444.3 820.2,440.0 817.6,435.9 814.5,432.1 811.0,428.8 807.1,425.9 802.8,423.5 798.3,421.7 793.6,420.4 788.7,419.7 783.8,419.6 778.9,420.1 774.2,421.1 769.5,422.7 765.2,424.9 761.1,427.5 757.4,430.5 754.0,433.9" fill="#18FF00"/><polygon points="744.5,458.5 753.6,481.9 756.7,485.1 760.3,488.0 764.2,490.5 768.3,492.5 772.7,494.1 777.3,495.1 781.9,495.5 786.6,495.4 791.2,494.7 795.7,493.5 800.0,491.8 804.0,489.5 807.8,486.8 811.1,483.6 814.1,480.0 816.6,476.1 818.5,472.0 819.9,467.6 820.8,463.1 821.1,458.5 820.8,453.9 819.9,449.4 818.5,445.0 816.6,440.9 814.1,437.0 811.1,433.4 807.8,430.2 804.0,427.5 800.0,425.2 795.7,423.5 791.2,422.3 786.6,421.6 781.9,421.5 777.3,421.9 772.7,422.9 768.3,424.5 764.2,426.5 760.3,429.0 756.7,431.9 753.6,435.1" fill="#30FF00"/><polygon points="744.5,458.5 753.1,480.7 756.1,483.8 759.5,486.6 763.2,488.9 767.1,490.9 771.3,492.3 775.6,493.2 780.1,493.7 784.5,493.6 788.9,492.9 793.1,491.8 797.2,490.1 801.1,488.0 804.6,485.4 807.8,482.3 810.6,479.0 813.0,475.3 814.8,471.3 816.2,467.1 817.0,462.9 817.3,458.5 817.0,454.1 816.2,449.9 814.8,445.7 813.0,441.7 810.6,438.0 807.8,434.7 804.6,431.6 801.1,429.0 797.2,426.9 793.1,425.2 788.9,424.1 784.5,423.4 780.1,423.3 775.6,423.8 771.3,424.7 767.1,426.1 763.2,428.1 759.5,430.4 756.1,433.2 753.1,436.3" fill="#50FF00"/><polygon points="744.5,458.5 752.7,479.5 755.5,482.4 758.7,485.0 762.2,487.3 765.9,489.1 769.8,490.4 773.9,491.3 778.1,491.7 782.3,491.6 786.4,491.0 790.5,489.9 794.3,488.4 798.0,486.3 801.3,483.9 804.4,481.0 807.0,477.8 809.2,474.3 811.0,470.6 812.3,466.7 813.0,462.6 813.3,458.5 813.0,454.4 812.3,450.3 811.0,446.4 809.2,442.7 807.0,439.2 804.4,436.0 801.3,433.1 798.0,430.7 794.3,428.6 790.5,427.1 786.4,426.0 782.3,425.4 778.1,425.3 773.9,425.7 769.8,426.6 765.9,427.9 762.2,429.7 758.7,432.0 755.5,434.6 752.7,437.5" fill="#70FF00"/><polygon points="744.5,458.5 752.2,478.3 754.9,481.0 757.8,483.5 761.1,485.6 764.7,487.3 768.4,488.6 772.2,489.4 776.1,489.8 780.1,489.7 784.0,489.1 787.8,488.1 791.4,486.6 794.9,484.7 798.0,482.4 800.9,479.7 803.4,476.7 805.4,473.4 807.1,469.9 808.3,466.2 809.0,462.4 809.3,458.5 809.0,454.6 808.3,450.8 807.1,447.1 805.4,443.6 803.4,440.3 800.9,437.3 798.0,434.6 794.9,432.3 791.4,430.4 787.8,428.9 784.0,427.9 780.1,427.3 776.1,427.2 772.2,427.6 768.4,428.4 764.7,429.7 761.1,431.4 757.8,433.5 754.9,436.0 752.2,438.7" fill="#98FF00"/><polygon points="744.5,458.5 751.7,476.9 754.1,479.5 756.9,481.8 760.0,483.7 763.3,485.3 766.7,486.5 770.3,487.3 774.0,487.7 777.6,487.6 781.3,487.0 784.8,486.1 788.2,484.7 791.4,482.9 794.4,480.8 797.0,478.3 799.3,475.5 801.3,472.4 802.8,469.1 803.9,465.7 804.6,462.1 804.8,458.5 804.6,454.9 803.9,451.3 802.8,447.9 801.3,444.6 799.3,441.5 797.0,438.7 794.4,436.2 791.4,434.1 788.2,432.3 784.8,430.9 781.3,430.0 777.6,429.4 774.0,429.3 770.3,429.7 766.7,430.5 763.3,431.7 760.0,433.3 756.9,435.2 754.1,437.5 751.7,440.1" fill="#C8FF00"/><polygon points="744.5,458.5 751.2,475.7 753.5,478.1 756.1,480.2 759.0,482.0 762.0,483.5 765.3,484.7 768.6,485.4 772.0,485.7 775.4,485.6 778.8,485.2 782.1,484.3 785.3,483.0 788.3,481.3 791.0,479.3 793.5,477.0 795.7,474.3 797.5,471.5 798.9,468.4 800.0,465.2 800.6,461.9 800.8,458.5 800.6,455.1 800.0,451.8 798.9,448.6 797.5,445.5 795.7,442.7 793.5,440.0 791.0,437.7 788.3,435.7 785.3,434.0 782.1,432.7 778.8,431.8 775.4,431.4 772.0,431.3 768.6,431.6 765.3,432.3 762.0,433.5 759.0,435.0 756.1,436.8 753.5,438.9 751.2,441.3" fill="#FCEA00"/><polygon points="744.5,458.5 750.7,474.4 752.8,476.6 755.2,478.6 757.9,480.3 760.7,481.7 763.7,482.7 766.8,483.4 770.0,483.7 773.1,483.6 776.3,483.2 779.3,482.3 782.3,481.1 785.0,479.6 787.6,477.7 789.8,475.6 791.8,473.1 793.5,470.5 794.9,467.7 795.8,464.7 796.4,461.6 796.6,458.5 796.4,455.4 795.8,452.3 794.9,449.3 793.5,446.5 791.8,443.9 789.8,441.4 787.6,439.3 785.0,437.4 782.3,435.9 779.3,434.7 776.3,433.8 773.1,433.4 770.0,433.3 766.8,433.6 763.7,434.3 760.7,435.3 757.9,436.7 755.2,438.4 752.8,440.4 750.7,442.6" fill="#F2B800"/><polygon points="744.5,458.5 750.2,473.1 752.2,475.2 754.4,477.0 756.8,478.5 759.4,479.8 762.1,480.7 765.0,481.4 767.9,481.6 770.8,481.6 773.7,481.2 776.5,480.4 779.2,479.3 781.7,477.9 784.1,476.2 786.2,474.2 788.0,472.0 789.6,469.5 790.8,466.9 791.7,464.2 792.2,461.4 792.4,458.5 792.2,455.6 791.7,452.8 790.8,450.1 789.6,447.5 788.0,445.0 786.2,442.8 784.1,440.8 781.7,439.1 779.2,437.7 776.5,436.6 773.7,435.8 770.8,435.4 767.9,435.4 765.0,435.6 762.1,436.3 759.4,437.2 756.8,438.5 754.4,440.0 752.2,441.8 750.2,443.9" fill="#F09800"/><polygon points="744.5,458.5 749.7,471.8 751.4,473.6 753.5,475.3 755.7,476.7 758.0,477.8 760.5,478.7 763.1,479.2 765.7,479.5 768.4,479.4 771.0,479.1 773.5,478.4 776.0,477.4 778.3,476.1 780.4,474.5 782.3,472.7 784.0,470.7 785.4,468.5 786.5,466.1 787.3,463.7 787.8,461.1 788.0,458.5 787.8,455.9 787.3,453.3 786.5,450.9 785.4,448.5 784.0,446.3 782.3,444.3 780.4,442.5 778.3,440.9 776.0,439.6 773.5,438.6 771.0,437.9 768.4,437.6 765.7,437.5 763.1,437.8 760.5,438.3 758.0,439.2 755.7,440.3 753.5,441.7 751.4,443.4 749.7,445.2" fill="#E87000"/></g>
<path d="M786,458h1v1h-1zM786,454h1v1h-1zM785,450h1v1h-1zM785,446h1v1h-1zM783,443h1v1h-1zM782,439h1v1h-1zM779,435h1v1h-1zM777,431h1v1h-1zM775,429h1v1h-1zM773,427h1v1h-1zM771,425h1v1h-1zM767,423h1v1h-1zM763,420h1v1h-1zM759,419h1v1h-1zM756,417h1v1h-1zM752,417h1v1h-1zM748,416h1v1h-1zM744,416h1v1h-1zM740,416h1v1h-1zM736,417h1v1h-1zM732,417h1v1h-1zM729,419h1v1h-1zM725,420h1v1h-1zM721,423h1v1h-1zM717,425h1v1h-1zM715,427h1v1h-1zM713,429h1v1h-1zM711,431h1v1h-1zM709,435h1v1h-1zM706,439h1v1h-1zM705,443h1v1h-1zM703,446h1v1h-1zM703,450h1v1h-1zM702,454h1v1h-1zM702,458h1v1h-1zM702,462h1v1h-1zM703,466h1v1h-1zM703,470h1v1h-1zM705,473h1v1h-1zM706,477h1v1h-1zM709,481h1v1h-1zM711,485h1v1h-1zM713,487h1v1h-1zM715,489h1v1h-1zM717,491h1v1h-1zM721,493h1v1h-1zM725,496h1v1h-1zM729,497h1v1h-1zM732,499h1v1h-1zM736,499h1v1h-1zM740,500h1v1h-1zM744,500h1v1h-1zM748,500h1v1h-1zM752,499h1v1h-1zM756,499h1v1h-1zM759,497h1v1h-1zM763,496h1v1h-1zM767,493h1v1h-1zM771,491h1v1h-1zM773,489h1v1h-1zM775,487h1v1h-1zM777,485h1v1h-1zM779,481h1v1h-1zM782,477h1v1h-1zM783,473h1v1h-1zM785,470h1v1h-1zM785,466h1v1h-1zM786,462h1v1h-1zM786,458h1v1h-1z" fill="#000" clip-path="url(#mclip)" shape-rendering="crispEdges"/>
<path d="M828,458h1v1h-1zM828,454h1v1h-1zM828,450h1v1h-1zM828,446h1v1h-1zM827,442h1v1h-1zM826,438h1v1h-1zM825,434h1v1h-1zM823,430h1v1h-1zM822,426h1v1h-1zM820,422h1v1h-1zM819,418h1v1h-1zM816,414h1v1h-1zM813,410h1v1h-1zM811,406h1v1h-1zM807,402h1v1h-1zM804,398h1v1h-1zM800,395h1v1h-1zM796,391h1v1h-1zM792,389h1v1h-1zM788,386h1v1h-1zM784,383h1v1h-1zM780,382h1v1h-1zM776,380h1v1h-1zM772,378h1v1h-1zM768,377h1v1h-1zM764,376h1v1h-1zM760,375h1v1h-1zM756,374h1v1h-1zM752,374h1v1h-1zM748,374h1v1h-1zM744,374h1v1h-1zM740,374h1v1h-1zM736,374h1v1h-1zM732,374h1v1h-1zM728,375h1v1h-1zM724,376h1v1h-1zM720,377h1v1h-1zM716,379h1v1h-1zM712,380h1v1h-1zM708,382h1v1h-1zM704,383h1v1h-1zM700,386h1v1h-1zM696,389h1v1h-1zM692,391h1v1h-1zM688,395h1v1h-1zM684,398h1v1h-1zM681,402h1v1h-1zM677,406h1v1h-1zM675,410h1v1h-1zM672,414h1v1h-1zM669,418h1v1h-1zM668,422h1v1h-1zM666,426h1v1h-1zM664,430h1v1h-1zM663,434h1v1h-1zM662,438h1v1h-1zM661,442h1v1h-1zM660,446h1v1h-1zM660,450h1v1h-1zM660,454h1v1h-1zM660,458h1v1h-1zM660,462h1v1h-1zM660,466h1v1h-1zM660,470h1v1h-1zM661,474h1v1h-1zM662,478h1v1h-1zM663,482h1v1h-1zM665,486h1v1h-1zM666,490h1v1h-1zM668,494h1v1h-1zM669,498h1v1h-1zM672,502h1v1h-1zM675,506h1v1h-1zM677,510h1v1h-1zM681,514h1v1h-1zM684,518h1v1h-1zM688,521h1v1h-1zM692,525h1v1h-1zM696,527h1v1h-1zM700,530h1v1h-1zM704,533h1v1h-1zM708,534h1v1h-1zM712,536h1v1h-1zM716,538h1v1h-1zM720,539h1v1h-1zM724,540h1v1h-1zM728,541h1v1h-1zM732,542h1v1h-1zM736,542h1v1h-1zM740,542h1v1h-1zM744,542h1v1h-1zM748,542h1v1h-1zM752,542h1v1h-1zM756,542h1v1h-1zM760,541h1v1h-1zM764,540h1v1h-1zM768,539h1v1h-1zM772,537h1v1h-1zM776,536h1v1h-1zM780,534h1v1h-1zM784,533h1v1h-1zM788,530h1v1h-1zM792,527h1v1h-1zM796,525h1v1h-1zM800,521h1v1h-1zM804,518h1v1h-1zM807,514h1v1h-1zM811,510h1v1h-1zM813,506h1v1h-1zM816,502h1v1h-1zM819,498h1v1h-1zM820,494h1v1h-1zM822,490h1v1h-1zM824,486h1v1h-1zM825,482h1v1h-1zM826,478h1v1h-1zM827,474h1v1h-1zM828,470h1v1h-1zM828,466h1v1h-1zM828,462h1v1h-1zM828,458h1v1h-1z" fill="#000" clip-path="url(#mclip)" shape-rendering="crispEdges"/>
<path d="M871,458h1v1h-1zM871,454h1v1h-1zM870,450h1v1h-1zM870,446h1v1h-1zM870,442h1v1h-1zM869,438h1v1h-1zM868,434h1v1h-1zM867,430h1v1h-1zM866,426h1v1h-1zM865,422h1v1h-1zM864,418h1v1h-1zM862,414h1v1h-1zM861,410h1v1h-1zM860,406h1v1h-1zM857,402h1v1h-1zM855,398h1v1h-1zM853,394h1v1h-1zM850,390h1v1h-1zM848,386h1v1h-1zM845,383h1v1h-1zM843,379h1v1h-1zM840,375h1v1h-1zM836,371h1v1h-1zM833,367h1v1h-1zM829,364h1v1h-1zM825,361h1v1h-1zM821,357h1v1h-1zM817,355h1v1h-1zM814,352h1v1h-1zM810,350h1v1h-1zM806,347h1v1h-1zM802,345h1v1h-1zM798,343h1v1h-1zM794,341h1v1h-1zM790,340h1v1h-1zM786,338h1v1h-1zM782,337h1v1h-1zM778,336h1v1h-1zM774,335h1v1h-1zM770,334h1v1h-1zM766,333h1v1h-1zM762,333h1v1h-1zM758,332h1v1h-1zM754,332h1v1h-1zM750,332h1v1h-1zM746,331h1v1h-1zM742,331h1v1h-1zM738,332h1v1h-1zM734,332h1v1h-1zM730,332h1v1h-1zM726,333h1v1h-1zM722,333h1v1h-1zM718,334h1v1h-1zM714,335h1v1h-1zM710,336h1v1h-1zM706,338h1v1h-1zM702,339h1v1h-1zM698,341h1v1h-1zM694,342h1v1h-1zM690,343h1v1h-1zM686,346h1v1h-1zM682,348h1v1h-1zM678,350h1v1h-1zM674,353h1v1h-1zM670,355h1v1h-1zM667,358h1v1h-1zM663,361h1v1h-1zM659,364h1v1h-1zM655,368h1v1h-1zM652,371h1v1h-1zM648,375h1v1h-1zM645,379h1v1h-1zM642,383h1v1h-1zM639,386h1v1h-1zM637,390h1v1h-1zM634,394h1v1h-1zM632,398h1v1h-1zM630,402h1v1h-1zM628,406h1v1h-1zM627,410h1v1h-1zM625,414h1v1h-1zM624,418h1v1h-1zM622,422h1v1h-1zM621,426h1v1h-1zM621,430h1v1h-1zM620,434h1v1h-1zM619,438h1v1h-1zM618,442h1v1h-1zM618,446h1v1h-1zM618,450h1v1h-1zM617,454h1v1h-1zM617,458h1v1h-1zM617,462h1v1h-1zM618,466h1v1h-1zM618,470h1v1h-1zM618,474h1v1h-1zM619,478h1v1h-1zM620,482h1v1h-1zM621,486h1v1h-1zM622,490h1v1h-1zM623,494h1v1h-1zM624,498h1v1h-1zM626,502h1v1h-1zM627,506h1v1h-1zM628,510h1v1h-1zM631,514h1v1h-1zM633,518h1v1h-1zM635,522h1v1h-1zM638,526h1v1h-1zM640,530h1v1h-1zM643,533h1v1h-1zM645,537h1v1h-1zM648,541h1v1h-1zM652,545h1v1h-1zM655,549h1v1h-1zM659,552h1v1h-1zM663,555h1v1h-1zM667,559h1v1h-1zM671,561h1v1h-1zM674,564h1v1h-1zM678,566h1v1h-1zM682,569h1v1h-1zM686,571h1v1h-1zM690,573h1v1h-1zM694,575h1v1h-1zM698,576h1v1h-1zM702,578h1v1h-1zM706,579h1v1h-1zM710,580h1v1h-1zM714,581h1v1h-1zM718,582h1v1h-1zM722,583h1v1h-1zM726,583h1v1h-1zM730,584h1v1h-1zM734,584h1v1h-1zM738,584h1v1h-1zM742,585h1v1h-1zM746,585h1v1h-1zM750,584h1v1h-1zM754,584h1v1h-1zM758,584h1v1h-1zM762,583h1v1h-1zM766,583h1v1h-1zM770,582h1v1h-1zM774,581h1v1h-1zM778,580h1v1h-1zM782,578h1v1h-1zM786,577h1v1h-1zM790,575h1v1h-1zM794,574h1v1h-1zM798,573h1v1h-1zM802,570h1v1h-1zM806,568h1v1h-1zM810,566h1v1h-1zM814,563h1v1h-1zM818,561h1v1h-1zM821,558h1v1h-1zM825,555h1v1h-1zM829,552h1v1h-1zM833,548h1v1h-1zM836,545h1v1h-1zM840,541h1v1h-1zM843,537h1v1h-1zM846,533h1v1h-1zM849,530h1v1h-1zM851,526h1v1h-1zM854,522h1v1h-1zM856,518h1v1h-1zM858,514h1v1h-1zM860,510h1v1h-1zM861,506h1v1h-1zM863,502h1v1h-1zM864,498h1v1h-1zM866,494h1v1h-1zM867,490h1v1h-1zM867,486h1v1h-1zM868,482h1v1h-1zM869,478h1v1h-1zM870,474h1v1h-1zM870,470h1v1h-1zM870,466h1v1h-1zM871,462h1v1h-1zM871,458h1v1h-1z" fill="#000" clip-path="url(#mclip)" shape-rendering="crispEdges"/>
<circle cx="744.5" cy="458.5" r="21.15" fill="#fff" stroke="#000" stroke-width="1" shape-rendering="crispEdges"/>
<path d="M744.5,437.35 a21.15,21.15 0 0,1 0,42.3 Z" fill="#000" shape-rendering="crispEdges"/>
<rect x="533.5" y="352.5" width="422" height="211" fill="none" stroke="#000" stroke-width="1" shape-rendering="crispEdges"/>
<rect x="533" y="458" width="423" height="1" fill="#000"/>
<rect x="744" y="352" width="1" height="212" fill="#000"/>
<rect x="554" y="352" width="1" height="3" fill="#000"/>
<rect x="554" y="561" width="1" height="3" fill="#000"/>
<rect x="554" y="456" width="1" height="3" fill="#000"/>
<rect x="575" y="352" width="1" height="3" fill="#000"/>
<rect x="575" y="561" width="1" height="3" fill="#000"/>
<rect x="575" y="456" width="1" height="3" fill="#000"/>
<rect x="596" y="352" width="1" height="3" fill="#000"/>
<rect x="596" y="561" width="1" height="3" fill="#000"/>
<rect x="596" y="456" width="1" height="3" fill="#000"/>
<rect x="617" y="352" width="1" height="3" fill="#000"/>
<rect x="617" y="561" width="1" height="3" fill="#000"/>
<rect x="617" y="456" width="1" height="3" fill="#000"/>
<rect x="638" y="352" width="1" height="5" fill="#000"/>
<rect x="638" y="559" width="1" height="5" fill="#000"/>
<rect x="638" y="454" width="1" height="5" fill="#000"/>
<rect x="660" y="352" width="1" height="3" fill="#000"/>
<rect x="660" y="561" width="1" height="3" fill="#000"/>
<rect x="660" y="456" width="1" height="3" fill="#000"/>
<rect x="681" y="352" width="1" height="3" fill="#000"/>
<rect x="681" y="561" width="1" height="3" fill="#000"/>
<rect x="681" y="456" width="1" height="3" fill="#000"/>
<rect x="702" y="352" width="1" height="3" fill="#000"/>
<rect x="702" y="561" width="1" height="3" fill="#000"/>
<rect x="702" y="456" width="1" height="3" fill="#000"/>
<rect x="723" y="352" width="1" height="3" fill="#000"/>
<rect x="723" y="561" width="1" height="3" fill="#000"/>
<rect x="723" y="456" width="1" height="3" fill="#000"/>
<rect x="765" y="352" width="1" height="3" fill="#000"/>
<rect x="765" y="561" width="1" height="3" fill="#000"/>
<rect x="765" y="456" width="1" height="3" fill="#000"/>
<rect x="786" y="352" width="1" height="3" fill="#000"/>
<rect x="786" y="561" width="1" height="3" fill="#000"/>
<rect x="786" y="456" width="1" height="3" fill="#000"/>
<rect x="807" y="352" width="1" height="3" fill="#000"/>
<rect x="807" y="561" width="1" height="3" fill="#000"/>
<rect x="807" y="456" width="1" height="3" fill="#000"/>
<rect x="828" y="352" width="1" height="3" fill="#000"/>
<rect x="828" y="561" width="1" height="3" fill="#000"/>
<rect x="828" y="456" width="1" height="3" fill="#000"/>
<rect x="850" y="352" width="1" height="5" fill="#000"/>
<rect x="850" y="559" width="1" height="5" fill="#000"/>
<rect x="850" y="454" width="1" height="5" fill="#000"/>
<rect x="871" y="352" width="1" height="3" fill="#000"/>
<rect x="871" y="561" width="1" height="3" fill="#000"/>
<rect x="871" y="456" width="1" height="3" fill="#000"/>
<rect x="892" y="352" width="1" height="3" fill="#000"/>
<rect x="892" y="561" width="1" height="3" fill="#000"/>
<rect x="892" y="456" width="1" height="3" fill="#000"/>
<rect x="913" y="352" width="1" height="3" fill="#000"/>
<rect x="913" y="561" width="1" height="3" fill="#000"/>
<rect x="913" y="456" width="1" height="3" fill="#000"/>
<rect x="934" y="352" width="1" height="3" fill="#000"/>
<rect x="934" y="561" width="1" height="3" fill="#000"/>
<rect x="934" y="456" width="1" height="3" fill="#000"/>
<rect x="533" y="363" width="5" height="1" fill="#000"/>
<rect x="951" y="363" width="5" height="1" fill="#000"/>
<rect x="744" y="363" width="5" height="1" fill="#000"/>
<rect x="533" y="373" width="9" height="1" fill="#000"/>
<rect x="947" y="373" width="9" height="1" fill="#000"/>
<rect x="744" y="373" width="9" height="1" fill="#000"/>
<rect x="533" y="384" width="5" height="1" fill="#000"/>
<rect x="951" y="384" width="5" height="1" fill="#000"/>
<rect x="744" y="384" width="5" height="1" fill="#000"/>
<rect x="533" y="395" width="5" height="1" fill="#000"/>
<rect x="951" y="395" width="5" height="1" fill="#000"/>
<rect x="744" y="395" width="5" height="1" fill="#000"/>
<rect x="533" y="405" width="5" height="1" fill="#000"/>
<rect x="951" y="405" width="5" height="1" fill="#000"/>
<rect x="744" y="405" width="5" height="1" fill="#000"/>
<rect x="533" y="416" width="9" height="1" fill="#000"/>
<rect x="947" y="416" width="9" height="1" fill="#000"/>
<rect x="744" y="416" width="9" height="1" fill="#000"/>
<rect x="533" y="426" width="5" height="1" fill="#000"/>
<rect x="951" y="426" width="5" height="1" fill="#000"/>
<rect x="744" y="426" width="5" height="1" fill="#000"/>
<rect x="533" y="437" width="5" height="1" fill="#000"/>
<rect x="951" y="437" width="5" height="1" fill="#000"/>
<rect x="744" y="437" width="5" height="1" fill="#000"/>
<rect x="533" y="447" width="5" height="1" fill="#000"/>
<rect x="951" y="447" width="5" height="1" fill="#000"/>
<rect x="744" y="447" width="5" height="1" fill="#000"/>
<rect x="533" y="468" width="5" height="1" fill="#000"/>
<rect x="951" y="468" width="5" height="1" fill="#000"/>
<rect x="744" y="468" width="5" height="1" fill="#000"/>
<rect x="533" y="479" width="5" height="1" fill="#000"/>
<rect x="951" y="479" width="5" height="1" fill="#000"/>
<rect x="744" y="479" width="5" height="1" fill="#000"/>
<rect x="533" y="490" width="5" height="1" fill="#000"/>
<rect x="951" y="490" width="5" height="1" fill="#000"/>
<rect x="744" y="490" width="5" height="1" fill="#000"/>
<rect x="533" y="500" width="9" height="1" fill="#000"/>
<rect x="947" y="500" width="9" height="1" fill="#000"/>
<rect x="744" y="500" width="9" height="1" fill="#000"/>
<rect x="533" y="511" width="5" height="1" fill="#000"/>
<rect x="951" y="511" width="5" height="1" fill="#000"/>
<rect x="744" y="511" width="5" height="1" fill="#000"/>
<rect x="533" y="521" width="5" height="1" fill="#000"/>
<rect x="951" y="521" width="5" height="1" fill="#000"/>
<rect x="744" y="521" width="5" height="1" fill="#000"/>
<rect x="533" y="532" width="5" height="1" fill="#000"/>
<rect x="951" y="532" width="5" height="1" fill="#000"/>
<rect x="744" y="532" width="5" height="1" fill="#000"/>
<rect x="533" y="542" width="9" height="1" fill="#000"/>
<rect x="947" y="542" width="9" height="1" fill="#000"/>
<rect x="744" y="542" width="9" height="1" fill="#000"/>
<rect x="533" y="553" width="5" height="1" fill="#000"/>
<rect x="951" y="553" width="5" height="1" fill="#000"/>
<rect x="744" y="553" width="5" height="1" fill="#000"/>
<text x="533.0" y="340.8" font-size="28.5" text-anchor="middle" >10</text>
<text x="533.0" y="602.3" font-size="28.5" text-anchor="middle" >10</text>
<text x="638.5" y="340.8" font-size="28.5" text-anchor="middle" >5</text>
<text x="638.5" y="602.3" font-size="28.5" text-anchor="middle" >5</text>
<text x="744.0" y="340.8" font-size="28.5" text-anchor="middle" >0</text>
<text x="744.0" y="602.3" font-size="28.5" text-anchor="middle" >0</text>
<text x="849.5" y="340.8" font-size="28.5" text-anchor="middle" >-5</text>
<text x="849.5" y="602.3" font-size="28.5" text-anchor="middle" >-5</text>
<text x="955.0" y="340.8" font-size="28.5" text-anchor="middle" >-10</text>
<text x="955.0" y="602.3" font-size="28.5" text-anchor="middle" >-10</text>
<text x="524" y="382.8" font-size="28.5" text-anchor="end" >4</text>
<text x="964" y="382.8" font-size="28.5" text-anchor="start" >4</text>
<text x="524" y="425.8" font-size="28.5" text-anchor="end" >2</text>
<text x="964" y="425.8" font-size="28.5" text-anchor="start" >2</text>
<text x="524" y="468.5" font-size="28.5" text-anchor="end" >0</text>
<text x="964" y="468.5" font-size="28.5" text-anchor="start" >0</text>
<text x="524" y="510.7" font-size="28.5" text-anchor="end" >-2</text>
<text x="964" y="510.7" font-size="28.5" text-anchor="start" >-2</text>
<text x="524" y="552.9" font-size="28.5" text-anchor="end" >-4</text>
<text x="964" y="552.9" font-size="28.5" text-anchor="start" >-4</text>
<text x="750.2" y="749" font-size="28" text-anchor="middle" letter-spacing="0.42">meridian plane</text>
<rect x="100" y="789" width="801" height="41" fill="url(#cb)"/>
<rect x="100.5" y="789.5" width="800" height="40" fill="none" stroke="#000" stroke-width="1" shape-rendering="crispEdges"/>
<rect x="263" y="789" width="1" height="5" fill="#000"/>
<rect x="263" y="825" width="1" height="5" fill="#000"/>
<text x="263" y="867" font-size="28" text-anchor="middle" >200</text>
<rect x="479" y="789" width="1" height="5" fill="#000"/>
<rect x="479" y="825" width="1" height="5" fill="#000"/>
<text x="479" y="867" font-size="28" text-anchor="middle" >500</text>
<rect x="642" y="789" width="1" height="5" fill="#000"/>
<rect x="642" y="825" width="1" height="5" fill="#000"/>
<text x="642" y="867" font-size="28" text-anchor="middle" >1000</text>
<rect x="805" y="789" width="1" height="5" fill="#000"/>
<rect x="805" y="825" width="1" height="5" fill="#000"/>
<text x="805" y="867" font-size="28" text-anchor="middle" >2000</text>
<text x="100" y="867" font-size="28" text-anchor="middle" >100</text>
<text x="335" y="899.6" font-size="28" letter-spacing="0.42" text-anchor="start">Electron Density (cm<tspan dy="-14" dx="0" font-size="18.5" letter-spacing="0">-3</tspan><tspan dy="14" dx="-0.5">)</tspan></text>
<text x="20" y="990" font-size="21.6" text-anchor="start" >SWIFF Plasmasphere model</text>
<text x="990" y="990" font-size="21.6" text-anchor="end" >Execution date: 2017-09-09</text>
</svg>
</body></html>
